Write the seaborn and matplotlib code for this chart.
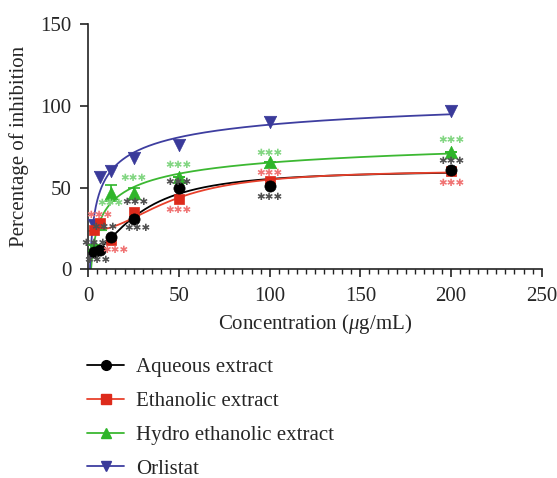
import numpy as np
import pandas as pd
import matplotlib
matplotlib.use("Agg")
import matplotlib.pyplot as plt
from matplotlib.lines import Line2D
from matplotlib.ticker import MultipleLocator
import seaborn as sns

# ---------------- data ----------------
conc = [3.125, 6.25, 12.5, 25, 50, 100, 200]
aqueous = [10.5, 12, 20, 30.5, 49.5, 51, 61]
ethanolic = [24, 28.5, 18, 35, 43, 54, 60]
hydro = [15, 28, 46.5, 46.5, 56.5, 65.5, 72]
orlistat = [27, 56.5, 60, 68, 76, 90, 97]
hydro_err = [0, 0, 5, 3.5, 0, 0, 0]

series_names = ["Aqueous extract", "Ethanolic extract", "Hydro ethanolic extract", "Orlistat"]

# significance marks per series (x, y in data units)
star_x = {
    0: [26, 27, 50, 100, 200, 8.7, 3.5, 5],
    1: [6.3, 15, 50, 100, 200],
    2: [25, 12, 50, 100, 200],
}
star_y = {
    0: [41, 25.5, 53.6, 44.5, 66.4, 26, 16, 5.5],
    1: [33.2, 12, 36.3, 59, 52.5],
    2: [55.6, 40.6, 63.8, 71.3, 79.1],
}

# ---------------- style ----------------
sns.set_style("ticks")
plt.rcParams["font.family"] = ["Liberation Serif", "DejaVu Serif"]
plt.rcParams["mathtext.fontset"] = "custom"
plt.rcParams["mathtext.it"] = "Liberation Serif:italic"
plt.rcParams["mathtext.rm"] = "Liberation Serif"

FS = 15
line_colors = ["#000000", "#e8412c", "#3cb832", "#3e3ea0"]
marker_colors = ["#000000", "#dd2a1b", "#2fb52a", "#3a3a9a"]
star_colors = ["#505050", "#f07373", "#82d682"]
markers = ["o", "s", "^", "v"]
msizes = [65, 60, 80, 80]

fig = plt.figure(figsize=(5.57, 4.78), dpi=100)
ax = fig.add_axes([0.1585, 0.4366, 0.814, 0.5132])

all_y = [aqueous, ethanolic, hydro, orlistat]


def fit_4pl(x, y):
    """Variable-slope dose-response fit (grid over EC50 and slope, linear LSQ for bottom/span)."""
    x = np.asarray(x, float)
    y = np.asarray(y, float)
    best = None
    for ec in np.logspace(-1, 3, 240):
        for h in np.linspace(0.3, 3.0, 120):
            g = 1.0 / (1.0 + (ec / x) ** h)
            A = np.column_stack([np.ones_like(x), g])
            coef, *_ = np.linalg.lstsq(A, y, rcond=None)
            r = np.sum((A @ coef - y) ** 2)
            if best is None or r < best[0]:
                best = (r, ec, h, coef)
    _, ec, h, coef = best
    return lambda t: coef[0] + coef[1] / (1.0 + (ec / t) ** h)


xs = np.linspace(0.6, 200, 500)
for i, y in enumerate(all_y):
    f = fit_4pl(conc, y)
    df = pd.DataFrame({"x": xs, "y": f(xs)})
    sns.lineplot(data=df, x="x", y="y", ax=ax, color=line_colors[i], lw=1.3, zorder=2)

for i, y in enumerate(all_y):
    if i == 2:
        ax.errorbar(conc, y, yerr=hydro_err, fmt="none", ecolor=marker_colors[i],
                    elinewidth=1.2, capsize=4, capthick=1.2, zorder=3)
    df = pd.DataFrame({"x": conc, "y": y})
    sns.scatterplot(data=df, x="x", y="y", ax=ax, marker=markers[i], s=msizes[i],
                    color=marker_colors[i], edgecolor=marker_colors[i], linewidth=0.5,
                    zorder=4 + (3 - i) * 0.1)

for k in star_x:
    for sx, sy in zip(star_x[k], star_y[k]):
        ax.text(sx, sy, "\u2731\u2731\u2731", color=star_colors[k], fontsize=7.5,
                ha="center", va="center", family="DejaVu Sans", zorder=6)

ax.set_xlim(0, 250)
ax.set_ylim(0, 150)
ax.set_xticks([0, 50, 100, 150, 200, 250])
ax.set_yticks([0, 50, 100, 150])
ax.xaxis.set_minor_locator(MultipleLocator(5))
ax.tick_params(axis="both", which="major", labelsize=FS, length=6, width=1.2,
               color="#222222")
ax.tick_params(axis="x", which="major", pad=7)
ax.tick_params(axis="y", which="major", pad=6)
ax.tick_params(axis="x", which="minor", length=3.5, width=1.0, color="#222222")
for s in ["left", "bottom"]:
    ax.spines[s].set_linewidth(1.2)
    ax.spines[s].set_color("#222222")
sns.despine(ax=ax)
ax.set_xlabel("Concentration ($\\mu$g/mL)", fontsize=FS, labelpad=4)
ax.set_ylabel("Percentage of inhibition", fontsize=FS, labelpad=8)

handles = []
for i in range(4):
    handles.append(Line2D([0], [0], color=line_colors[i], lw=1.3, marker=markers[i],
                          markersize=7, markerfacecolor=marker_colors[i],
                          markeredgecolor=marker_colors[i]))
fig.legend(handles, series_names, loc="upper left", bbox_to_anchor=(0.142, 0.269),
           frameon=False, fontsize=FS, handlelength=1.75, handletextpad=0.6,
           labelspacing=0.68, borderaxespad=0)

fig.savefig("out.png", dpi=100)
